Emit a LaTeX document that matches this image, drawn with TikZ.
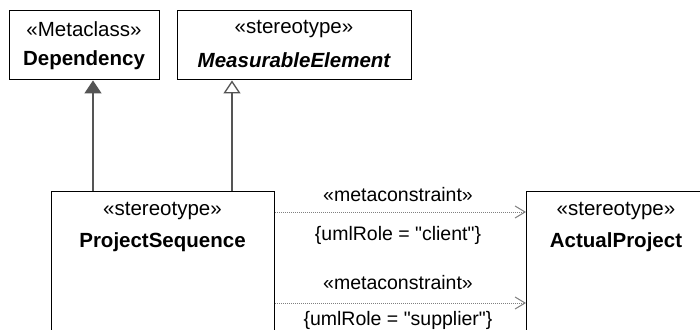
\documentclass[tikz,border=0pt]{standalone}
\usepackage{fontspec}
\setmainfont{Liberation Sans}[Ligatures=TeXOff]
\usetikzlibrary{arrows.meta,calc}
\definecolor{genc}{HTML}{555555}
\definecolor{depc}{HTML}{808080}
\begin{document}
\begin{tikzpicture}[x=1pt,y=-1pt,
  box/.style={draw=black,line width=1.4pt,rectangle,inner sep=0pt,anchor=north west},
  txt/.style={inner sep=0pt,font=\fontsize{20.5}{24}\selectfont},
  btxt/.style={inner sep=0pt,font=\fontsize{20.5}{24}\selectfont\bfseries},
  lbl/.style={inner sep=0pt,font=\fontsize{19.5}{23}\selectfont},
  genfill/.style={draw=genc,line width=1.3pt,-{Triangle[length=13pt,width=17pt,fill=genc]}},
  genopen/.style={draw=genc,line width=1.3pt,-{Triangle[open,length=13pt,width=17pt,fill=white]}},
  depline/.style={draw=depc,line width=1pt,dash pattern=on 1pt off 1pt,-{Straight Barb[length=10pt,width=12pt,line width=1pt]}}
]
\useasboundingbox (0,0) rectangle (700,329);
\begin{scope}
\clip (0,0) rectangle (700,329);
% boxes
\node[box,minimum width=150pt,minimum height=69pt] (dep) at (9,10) {};
\node[box,minimum width=234pt,minimum height=69pt] (me) at (177,10) {};
\node[box,minimum width=223pt,minimum height=160pt] (ps) at (51,191) {};
\node[box,minimum width=180pt,minimum height=160pt] (ap) at (526,191) {};
\end{scope}
% texts
\node[txt] (t1) at (84,29) {«Metaclass»};
\node[btxt] (t2) at (84,60) {Dependency};
\node[txt] (t3) at (294,29) {«stereotype»};
\node[btxt] (t4) at (294,60) {\itshape MeasurableElement};
\node[txt] (t5) at (162.5,211) {«stereotype»};
\node[btxt] (t6) at (162.5,242) {ProjectSequence};
\node[txt] (t7) at (616,211) {«stereotype»};
\node[btxt] (t8) at (616,242) {ActualProject};
% generalizations
\coordinate (g1) at (93,0);
\coordinate (g2) at (232,0);
\draw[genfill] (ps.north -| g1) -- (dep.south -| g1);
\draw[genopen] (ps.north -| g2) -- (me.south -| g2);
% dependencies
\draw[depline] ([yshift=-21pt]ps.north east) -- ([yshift=-21pt]ap.north west);
\draw[depline] ([yshift=-112pt]ps.north east) -- ([yshift=-112pt]ap.north west);
\node[lbl] (l1) at (398,195) {«metaconstraint»};
\node[lbl] (l2) at (398,235) {\{umlRole = "client"\}};
\node[lbl] (l3) at (398,283) {«metaconstraint»};
\node[lbl] (l4) at (398,320.5) {\{umlRole = "supplier"\}};
\end{tikzpicture}
\end{document}
